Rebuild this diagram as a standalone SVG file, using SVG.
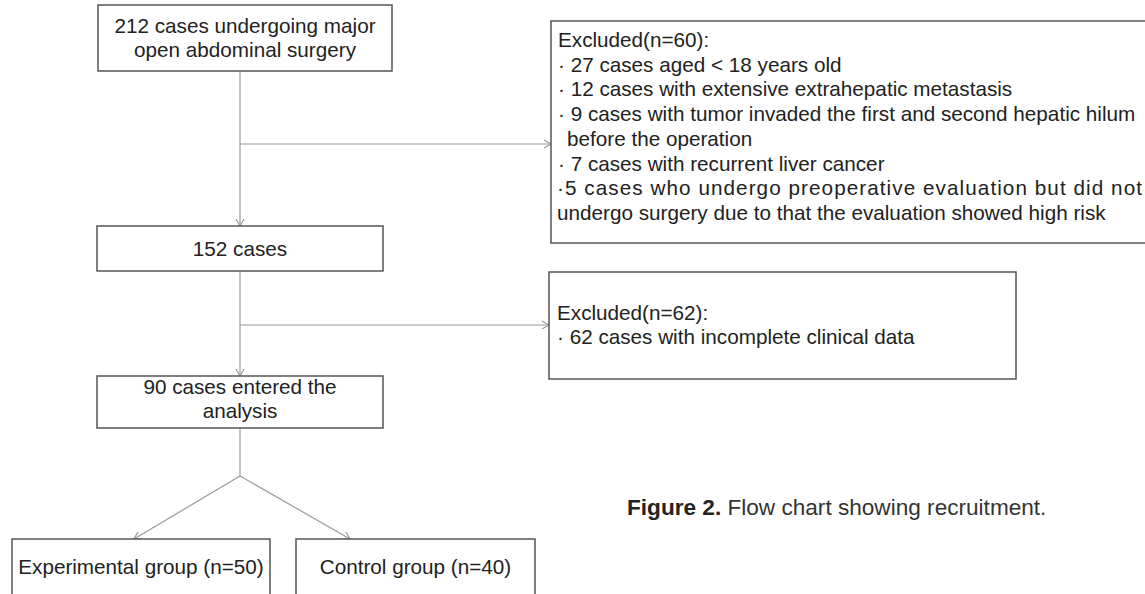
<svg xmlns="http://www.w3.org/2000/svg" width="1145" height="594" viewBox="0 0 1145 594">
<style>
.box{fill:#fff;stroke:#555;stroke-width:1.5}
.t{font-family:"Liberation Sans",Arial,sans-serif;font-size:20.7px;fill:#222}
.c{text-anchor:middle}
.ln{stroke:#999;stroke-width:1.2;fill:none}
.cap{font-family:"Liberation Sans",Arial,sans-serif;font-size:22.6px;fill:#333}
</style>
<defs>
<marker id="ah" markerWidth="10" markerHeight="10" refX="8" refY="5" orient="auto" markerUnits="userSpaceOnUse">
<path d="M1,1 L8,5 L1,9" fill="none" stroke="#999" stroke-width="1.2"/>
</marker>
</defs>
<rect width="1145" height="594" fill="#fff"/>
<g id="connectors">
<line class="ln" x1="240" y1="71" x2="240" y2="226" marker-end="url(#ah)"/>
<line class="ln" x1="240" y1="144" x2="551" y2="144" marker-end="url(#ah)"/>
<line class="ln" x1="240" y1="271" x2="240" y2="376" marker-end="url(#ah)"/>
<line class="ln" x1="240" y1="325" x2="549" y2="325" marker-end="url(#ah)"/>
<line class="ln" x1="240" y1="428" x2="240" y2="476"/>
<line class="ln" x1="240" y1="476" x2="134" y2="539" marker-end="url(#ah)"/>
<line class="ln" x1="240" y1="476" x2="350" y2="539" marker-end="url(#ah)"/>
</g>
<g id="n212">
<rect class="box" x="98" y="5" width="294" height="66"/>
<text class="t c" x="245" y="33">212 cases undergoing major</text>
<text class="t c" x="245" y="57">open abdominal surgery</text>
</g>
<g id="n152">
<rect class="box" x="97" y="226" width="286" height="45"/>
<text class="t c" x="240" y="256">152 cases</text>
</g>
<g id="n90">
<rect class="box" x="97" y="376" width="286" height="52"/>
<text class="t c" x="240" y="394">90 cases entered the</text>
<text class="t c" x="240" y="418">analysis</text>
</g>
<g id="excl60">
<rect class="box" x="551" y="21" width="620" height="222"/>
<text class="t" x="558" y="47">Excluded(n=60):</text>
<text class="t" x="558" y="72">· 27 cases aged &lt; 18 years old</text>
<text class="t" x="558" y="96">· 12 cases with extensive extrahepatic metastasis</text>
<text class="t" x="558" y="121">· 9 cases with tumor invaded the first and second hepatic hilum</text>
<text class="t" x="567" y="146">before the operation</text>
<text class="t" x="558" y="171">· 7 cases with recurrent liver cancer</text>
<text class="t" x="557" y="195" textLength="585" lengthAdjust="spacing">·5 cases who undergo preoperative evaluation but did not</text>
<text class="t" x="557" y="220">undergo surgery due to that the evaluation showed high risk</text>
</g>
<g id="excl62">
<rect class="box" x="549" y="272" width="467" height="107"/>
<text class="t" x="557" y="320">Excluded(n=62):</text>
<text class="t" x="557" y="344">· 62 cases with incomplete clinical data</text>
</g>
<g id="exp">
<rect class="box" x="12" y="539" width="258" height="70"/>
<text class="t c" x="141" y="574">Experimental group (n=50)</text>
</g>
<g id="ctl">
<rect class="box" x="296" y="539" width="239" height="70"/>
<text class="t c" x="415.5" y="574">Control group (n=40)</text>
</g>
<text class="cap" x="627" y="515"><tspan font-weight="bold" fill="#222">Figure 2.</tspan> Flow chart showing recruitment.</text>
</svg>
